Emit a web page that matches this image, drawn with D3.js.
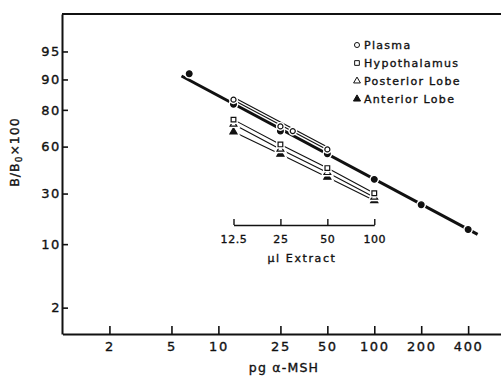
<!DOCTYPE html>
<html>
<head>
<meta charset="utf-8">
<script src="https://cdn.jsdelivr.net/npm/d3@7"></script>
<style>
  body { margin: 0; background: #fff; }
  svg { display: block; }
  text { font-family: "DejaVu Sans", sans-serif; fill: #111; stroke: #111; stroke-width: 0.35px; }
</style>
</head>
<body>
<script>
// ---- data ----
var xTicks = [2, 5, 10, 25, 50, 100, 200, 400];
var yTicks = [2, 10, 30, 60, 80, 90, 95];
var extractTicks = [12.5, 25, 50, 100];

// standard curve (pg a-MSH vs B/B0 x 100)
var stdDose = [6.5, 12.5, 25, 50, 100, 200, 400];
var stdB = [91.3, 82.3, 69.5, 55.3, 38.5, 24.1, 14.1];
var stdFitDose = [5.8, 460];
var stdFitB = [90.8, 12.6];

// extracts (ul extract vs B/B0 x 100)
var plasmaVol = [12.5, 25, 30, 50];
var plasmaB = [84.0, 72.0, 69.4, 58.2];
var extractVol = [12.5, 25, 50, 100];
var hypoB = [75.5, 61.4, 45.8, 30.2];
var postB = [73.2, 58.3, 42.9, 28.0];
var antB = [69.0, 55.1, 39.9, 26.2];

var legendNames = ["Plasma", "Hypothalamus", "Posterior Lobe", "Anterior Lobe"];

var W = 501, H = 378;
var svg = d3.select("body").append("svg").attr("width", W).attr("height", H);

var x = d3.scaleLog().domain([1, 650]).range([62.5, 501]);
// logit axis for B/B0
function logit(p) { return Math.log(p / (100 - p)); }
var yl = d3.scaleLinear().domain([logit(1), logit(98.1)]).range([334, 14]);
function y(p) { return yl(logit(p)); }

// frame
svg.append("line").attr("x1", 62).attr("x2", W).attr("y1", 14).attr("y2", 14)
    .attr("stroke", "#111").attr("stroke-width", 2);

var xAxis = svg.append("g").attr("transform", "translate(0,334)")
    .call(d3.axisBottom(x).tickValues(xTicks).tickSize(-8).tickSizeOuter(0)
        .tickPadding(8).tickFormat(d3.format("d")));
var yAxis = svg.append("g").attr("transform", "translate(62,0)")
    .call(d3.axisLeft(yl).tickValues(yTicks.map(logit)).tickSize(-6).tickSizeOuter(0)
        .tickPadding(1).tickFormat(function (d) { return Math.round(100 / (1 + Math.exp(-d))); }));

[xAxis, yAxis].forEach(function (g) {
    g.select(".domain").attr("stroke", "#111").attr("stroke-width", 2);
    g.selectAll(".tick line").attr("stroke", "#111").attr("stroke-width", 1.6);
    g.selectAll(".tick text").attr("font-size", 13).attr("letter-spacing", 1.6)
        .attr("font-family", "DejaVu Sans, sans-serif").attr("fill", "#111");
});

// inset ul extract axis
var xi = d3.scaleLog().domain([12.5, 100]).range([x(12.5), x(100)]);
var inset = svg.append("g").attr("transform", "translate(0,225)")
    .call(d3.axisBottom(xi).tickValues(extractTicks).tickSize(-6).tickSizeOuter(0)
        .tickPadding(10).tickFormat(function (d) { return d; }));
inset.select(".domain").attr("stroke", "#111").attr("stroke-width", 1.4);
inset.selectAll(".tick line").attr("stroke", "#111").attr("stroke-width", 1.4);
inset.selectAll(".tick text").attr("font-size", 11).attr("letter-spacing", 0.6)
    .attr("font-family", "DejaVu Sans, sans-serif").attr("fill", "#111");
svg.append("text").attr("x", 302).attr("y", 262).attr("text-anchor", "middle")
    .attr("font-size", 11).attr("letter-spacing", 1.6).text("\u03bcl Extract");

// axis titles
svg.append("text").attr("x", 284).attr("y", 372).attr("text-anchor", "middle")
    .attr("font-size", 12.5).attr("letter-spacing", 1.2).text("pg \u03b1-MSH");
var yt = svg.append("text").attr("transform", "translate(19,152) rotate(-90)")
    .attr("text-anchor", "middle").attr("font-size", 12.5).attr("letter-spacing", 1);
yt.append("tspan").text("B/B");
yt.append("tspan").attr("dy", 3).attr("font-size", 9).text("0");
yt.append("tspan").attr("dy", -3).text("\u00d7100");

// ---- lines ----
var line = d3.line().x(function (d) { return x(d[0]); }).y(function (d) { return y(d[1]); });

svg.append("path").datum(d3.zip(stdFitDose, stdFitB)).attr("d", line)
    .attr("fill", "none").attr("stroke", "#111").attr("stroke-width", 3);

// plasma fit drawn as a double thin line
var plasmaFit = [[plasmaVol[0], plasmaB[0]], [plasmaVol[3], plasmaB[3]]];
svg.append("path").datum(plasmaFit).attr("d", line)
    .attr("fill", "none").attr("stroke", "#111").attr("stroke-width", 3.6)
    .attr("transform", "translate(0,-1)");
svg.append("path").datum(plasmaFit).attr("d", line)
    .attr("fill", "none").attr("stroke", "#fff").attr("stroke-width", 1.4)
    .attr("transform", "translate(0,-1)");

[hypoB, postB, antB].forEach(function (b) {
    svg.append("path").datum(d3.zip(extractVol, b)).attr("d", line)
        .attr("fill", "none").attr("stroke", "#111").attr("stroke-width", 1.1);
});

// ---- markers (white halo cuts the lines) ----
var sym = {
    circleOpen: { type: d3.symbolCircle, size: 20, fill: "#fff" },
    square: { type: d3.symbolSquare, size: 22, fill: "#fff" },
    triOpen: { type: d3.symbolTriangle, size: 20, fill: "#fff" },
    triFill: { type: d3.symbolTriangle, size: 22, fill: "#111" },
    dot: { type: d3.symbolCircle, size: 26, fill: "#111" }
};

function drawPoints(xs, ys, s) {
    var pts = d3.zip(xs, ys);
    var g = svg.append("g");
    g.selectAll("path.halo").data(pts).enter().append("path").attr("class", "halo")
        .attr("d", d3.symbol().type(s.type).size(s.size))
        .attr("transform", function (d) { return "translate(" + x(d[0]) + "," + y(d[1]) + ")"; })
        .attr("fill", "#fff").attr("stroke", "#fff").attr("stroke-width", 4);
    g.selectAll("path.pt").data(pts).enter().append("path").attr("class", "pt")
        .attr("d", d3.symbol().type(s.type).size(s.size))
        .attr("transform", function (d) { return "translate(" + x(d[0]) + "," + y(d[1]) + ")"; })
        .attr("fill", s.fill).attr("stroke", "#111").attr("stroke-width", 1.2);
}

drawPoints(stdDose, stdB, sym.dot);
drawPoints(plasmaVol, plasmaB, sym.circleOpen);
drawPoints(extractVol, antB, sym.triFill);
drawPoints(extractVol, postB, sym.triOpen);
drawPoints(extractVol, hypoB, sym.square);

// ---- legend ----
var legSyms = [sym.circleOpen, sym.square, sym.triOpen, sym.triFill];
var leg = svg.append("g").attr("transform", "translate(357,45)");
legendNames.forEach(function (name, i) {
    var s = legSyms[i];
    leg.append("path").attr("d", d3.symbol().type(s.type).size(s.size))
        .attr("transform", "translate(0," + (i * 18) + ")")
        .attr("fill", s.fill).attr("stroke", "#111").attr("stroke-width", 1);
    leg.append("text").attr("x", 7).attr("y", i * 18 + 4)
        .attr("font-size", 11).attr("letter-spacing", 1.3).text(name);
});
</script>
</body>
</html>
